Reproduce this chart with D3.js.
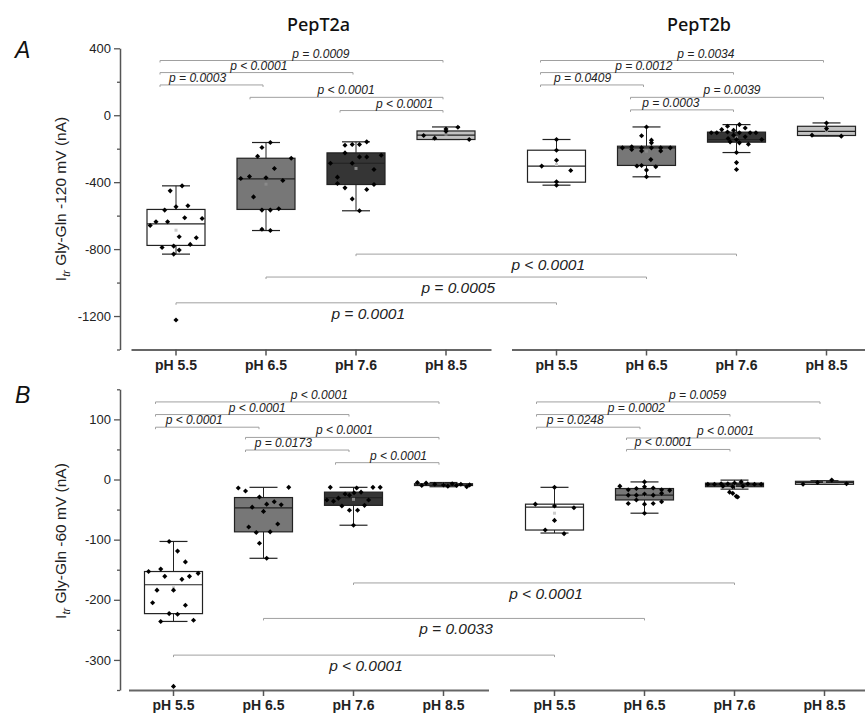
<!DOCTYPE html>
<html>
<head>
<meta charset="utf-8">
<script src="https://cdn.jsdelivr.net/npm/d3@7"></script>
<style>
  html, body { margin: 0; padding: 0; background: #fff; }
  svg { display: block; }
</style>
</head>
<body>
<script>
// ---------------- DATA ----------------
const categories = ["pH 5.5", "pH 6.5", "pH 7.6", "pH 8.5"];
const groups = ["PepT2a", "PepT2b"];
const A_yTicks = [400, 0, -400, -800, -1200];
const A_yMinor = [200, -200, -600, -1000, -1400];
const B_yTicks = [100, 0, -100, -200, -300];
const B_yMinor = [150, 50, -50, -150, -250, -350];

// order: PepT2a 5.5, 6.5, 7.6, 8.5, PepT2b 5.5, 6.5, 7.6, 8.5
const A_whiskerLo = [-830, -689, -571, -145, -418, -368, -223, -125];
const A_q1        = [-778, -563, -414, -145, -400, -300, -161, -121];
const A_median    = [-649, -380, -287, -119, -304, -195, -145, -96];
const A_q3        = [-563, -257, -225, -94, -209, -185, -101, -66];
const A_whiskerHi = [-422, -163, -159, -70, -145, -70, -56, -46];
const A_mean      = [-687, -412, -318, -114, -294, -215, -135, -92];

const A_points = [
  [-422,-452,-547,-541,-567,-617,-613,-637,-637,-659,-726,-732,-772,-790,-782,-806,-830,-1224],
  [-163,-193,-245,-257,-318,-378,-366,-374,-390,-488,-567,-567,-559,-681,-689],
  [-179,-175,-175,-159,-225,-249,-249,-239,-287,-287,-324,-370,-408,-414,-434,-444,-500,-571],
  [-121,-137,-96,-82,-72,-145],
  [-145,-209,-269,-304,-330,-398,-418],
  [-70,-123,-149,-165,-195,-189,-195,-195,-195,-195,-205,-213,-213,-265,-303,-300,-308,-328,-368],
  [-66,-56,-76,-105,-86,-100,-90,-105,-105,-105,-105,-119,-139,-145,-129,-145,-159,-165,-173,-223,-283,-324],
  [-46,-80,-119,-125]
];
const A_jitter = [
  [0.21,-0.2,0,0.41,-0.39,0.9,0.3,-0.69,-0.29,-0.89,0.11,0.7,0.49,-0.48,-0.08,0.11,-0.08,0],
  [0.15,-0.14,-0.29,0.87,0.29,-0.87,-0.57,0,0.58,-0.43,-0.14,0.15,0.44,-0.14,0.15],
  [-0.38,-0.13,0.12,0.37,-0.38,0.12,0.37,0.87,-0.88,-0.13,0.62,-0.64,-0.64,0.62,-0.38,0.37,-0.13,0.12],
  [-0.77,-0.39,0,0,0.41,0.8],
  [0,0,0,-0.51,0.49,0,0],
  [0,-0.17,0.17,0.17,-0.83,-0.51,-0.17,0.17,0.49,0.82,-0.51,-0.17,0.49,0.15,-0.33,-0.17,0.32,0,0],
  [-0.31,0.1,0.3,-0.68,-0.51,-0.31,-0.1,0.1,0.47,0.67,-0.87,-0.1,-0.29,0,0.3,0.87,-0.22,0.1,0.41,0,0,0],
  [0,0,-0.5,0.51]
];

const B_whiskerLo = [-236, -131, -76, -12, -89, -56, -16, -8];
const B_q1        = [-223, -87, -43, -10, -84, -34, -12, -8];
const B_median    = [-175, -47, -30, -9, -46, -26, -8, -5];
const B_q3        = [-153, -30, -21, -7, -41, -15, -6, -3];
const B_whiskerHi = [-103, -13, -13, -5, -13, -4, -1, -2];
const B_mean      = [-180, -53, -33, -8, -56, -26, -10, -5];

const B_points = [
  [-103,-119,-137,-153,-149,-161,-166,-161,-156,-184,-184,-205,-209,-223,-224,-236,-234,-344],
  [-14,-19,-13,-29,-46,-41,-37,-42,-53,-74,-79,-88,-87,-106,-131],
  [-13,-14,-13,-13,-34,-36,-31,-24,-26,-22,-21,-34,-44,-43,-51,-51,-76],
  [-5,-6,-7,-8,-8,-9,-9,-10,-10,-11,-12],
  [-13,-41,-44,-47,-68,-84,-90],
  [-4,-11,-17,-15,-12,-14,-17,-18,-26,-26,-24,-26,-23,-40,-34,-41,-40,-37,-56],
  [-8,-8,-7,-7,-6,-4,-7,-8,-8,-11,-12,-11,-21,-23,-28,-29],
  [-8,-5,-1,-7]
];
const B_jitter = [
  [-0.15,0.14,0.41,-0.86,-0.44,-0.3,0.29,0.55,0.85,-0.57,0,-0.72,0.41,-0.15,0.14,-0.44,0.69,0],
  [-0.87,-0.62,0.87,-0.14,-0.39,0.11,0.37,0.61,0,0.49,-0.51,-0.25,0.23,-0.14,0.11],
  [-0.8,0.11,0.67,0.92,-0.92,-0.69,-0.52,-0.29,-0.14,0.02,0.26,0.52,-0.4,0.38,-0.14,0.14,0],
  [-0.9,-0.6,0.3,-0.3,0.6,0,0.9,-0.75,0.45,0.15,0.8],
  [0,-0.66,0,0.67,0,-0.32,0.33],
  [0,-0.85,-0.56,-0.28,0,0.3,0.59,0.87,-0.56,-0.28,0,0.3,0.59,-0.56,-0.28,0,0.3,0.59,0],
  [-0.92,-0.69,-0.46,-0.23,0,0.23,0.46,0.69,0.92,-0.4,-0.06,0.29,-0.17,-0.06,0.06,0.11],
  [-0.74,-0.24,0.25,0.76]
];

// significance brackets: from/to = box index (0..7), level = data value, at = label centre (category units within group)
const A_brackets = [
  {from:0, to:3, level:327, label:"p = 0.0009", at:1.61},
  {from:0, to:2, level:255, label:"p < 0.0001", at:0.92},
  {from:0, to:1, level:181, label:"p = 0.0003", at:0.24},
  {from:1, to:3, level:107, label:"p < 0.0001", at:1.89},
  {from:2, to:3, level:28,  label:"p < 0.0001", at:2.54},
  {from:4, to:7, level:327, label:"p = 0.0034", at:1.66},
  {from:4, to:6, level:255, label:"p = 0.0012", at:0.97},
  {from:4, to:5, level:181, label:"p = 0.0409", at:0.29},
  {from:5, to:7, level:107, label:"p = 0.0039", at:1.95},
  {from:5, to:6, level:32,  label:"p = 0.0003", at:1.27}
];
const A_crossBrackets = [
  {from:2, to:6, level:-830,  label:"p < 0.0001"},
  {from:1, to:5, level:-967,  label:"p = 0.0005"},
  {from:0, to:4, level:-1121, label:"p = 0.0001"}
];
const B_brackets = [
  {from:0, to:3, level:129, label:"p < 0.0001", at:1.62},
  {from:0, to:2, level:108, label:"p < 0.0001", at:0.93},
  {from:0, to:1, level:87,  label:"p < 0.0001", at:0.23},
  {from:1, to:3, level:70,  label:"p < 0.0001", at:1.9},
  {from:1, to:2, level:49,  label:"p = 0.0173", at:1.22},
  {from:2, to:3, level:28,  label:"p < 0.0001", at:2.5},
  {from:4, to:7, level:129, label:"p = 0.0059", at:1.59},
  {from:4, to:6, level:108, label:"p = 0.0002", at:0.91},
  {from:4, to:5, level:87,  label:"p = 0.0248", at:0.23},
  {from:5, to:7, level:69,  label:"p < 0.0001", at:1.9},
  {from:5, to:6, level:50,  label:"p < 0.0001", at:1.21}
];
const B_crossBrackets = [
  {from:2, to:6, level:-172, label:"p < 0.0001"},
  {from:1, to:5, level:-231, label:"p = 0.0033"},
  {from:0, to:4, level:-292, label:"p < 0.0001"}
];

// ---------------- STYLE ----------------
const boxFill = ["#ffffff", "#777777", "#353535", "#c2c2c2"];
const FONT = "'Liberation Sans', Arial, sans-serif";

const svg = d3.select("body").append("svg")
  .attr("width", 865).attr("height", 715)
  .style("font-family", FONT);
svg.append("rect").attr("width", 865).attr("height", 715).attr("fill", "#fff");

function drawPanel(cfg) {
  const g = svg.append("g");
  const y = d3.scaleLinear().domain(cfg.yDomain).range(cfg.yRange);
  const xs = [
    d3.scaleBand().domain(categories).range(cfg.xLeft),
    d3.scaleBand().domain(categories).range(cfg.xRight)
  ];
  const bw = xs[0].bandwidth();
  const cx = i => xs[Math.floor(i / 4)](categories[i % 4]) + bw / 2;
  const halfBox = 29, halfCap = 14;

  // y axis
  const yAx = g.append("g").attr("transform", `translate(${cfg.axisX},0)`)
    .call(d3.axisLeft(y).tickValues(cfg.major).tickSize(6).tickSizeOuter(0).tickPadding(3)
      .tickFormat(d => String(d)));
  yAx.select(".domain").attr("stroke", "#555").attr("stroke-width", 1.5);
  yAx.selectAll(".tick line").attr("stroke", "#555").attr("stroke-width", 1.3);
  yAx.selectAll(".tick text").attr("font-size", 13).attr("fill", "#222").attr("font-family", FONT);
  const yMin = g.append("g").attr("transform", `translate(${cfg.axisX},0)`)
    .call(d3.axisLeft(y).tickValues(cfg.minor).tickSize(3).tickSizeOuter(0).tickFormat(""));
  yMin.select(".domain").remove();
  yMin.selectAll(".tick line").attr("stroke", "#555").attr("stroke-width", 1.3);

  // x axes
  xs.forEach(x => {
    const ax = g.append("g").attr("transform", `translate(0,${cfg.baseY})`)
      .call(d3.axisBottom(x).tickSize(6).tickSizeOuter(0).tickPadding(cfg.tickPad));
    ax.select(".domain").attr("stroke", "#666").attr("stroke-width", 2);
    ax.selectAll(".tick line").attr("stroke", "#555").attr("stroke-width", 1.5);
    ax.selectAll(".tick text").attr("font-size", 14).attr("font-weight", "bold")
      .attr("fill", "#222").attr("font-family", FONT);
  });

  // y label
  const lab = g.append("text")
    .attr("transform", `translate(66,${cfg.labelY}) rotate(-90)`)
    .attr("text-anchor", "middle").attr("font-size", 15.5).attr("fill", "#222");
  lab.append("tspan").text("I");
  lab.append("tspan").text("tr").attr("font-size", 11).attr("font-style", "italic").attr("dy", 4);
  lab.append("tspan").text(cfg.labelText).attr("dy", -4);

  // panel letter
  g.append("text").attr("x", 15).attr("y", cfg.letterY).text(cfg.letter)
    .attr("font-size", 23).attr("font-style", "italic").attr("fill", "#111");

  // brackets within groups
  const bGroup = g.append("g");
  cfg.brackets.forEach(b => {
    const x1 = cx(b.from) + cfg.bStart, x2 = cx(b.to) + cfg.bEnd, yy = y(b.level);
    bGroup.append("path")
      .attr("d", `M${x1},${yy + 2}V${yy}H${x2}V${yy + 2}`)
      .attr("fill", "none").attr("stroke", "#a0a0a0").attr("stroke-width", 1);
    const grp = Math.floor(b.from / 4);
    const lx = cx(grp * 4) + b.at * xs[0].step();
    bGroup.append("text").attr("x", lx).attr("y", yy - 3).attr("text-anchor", "middle")
      .attr("font-size", 12).attr("font-style", "italic").attr("fill", "#222").text(b.label);
  });
  cfg.cross.forEach(b => {
    const x1 = cx(b.from), x2 = cx(b.to), yy = y(b.level);
    bGroup.append("path")
      .attr("d", `M${x1},${yy + 2}V${yy}H${x2}V${yy + 2}`)
      .attr("fill", "none").attr("stroke", "#a0a0a0").attr("stroke-width", 1);
    bGroup.append("text").attr("x", (x1 + x2) / 2 + 2).attr("y", yy + 16).attr("text-anchor", "middle")
      .attr("font-size", 15.5).attr("font-style", "italic").attr("fill", "#222").text(b.label);
  });

  // boxes
  const s = cfg.stats;
  for (let i = 0; i < 8; i++) {
    const c = cx(i);
    const bg = g.append("g");
    bg.append("line").attr("x1", c).attr("x2", c).attr("y1", y(s.q3[i])).attr("y2", y(s.hi[i]))
      .attr("stroke", "#222").attr("stroke-width", 1);
    bg.append("line").attr("x1", c).attr("x2", c).attr("y1", y(s.q1[i])).attr("y2", y(s.lo[i]))
      .attr("stroke", "#222").attr("stroke-width", 1);
    [s.hi[i], s.lo[i]].forEach(v => bg.append("line")
      .attr("x1", c - halfCap).attr("x2", c + halfCap).attr("y1", y(v)).attr("y2", y(v))
      .attr("stroke", "#222").attr("stroke-width", 1.2));
    bg.append("rect").attr("x", c - halfBox).attr("width", halfBox * 2)
      .attr("y", y(s.q3[i])).attr("height", Math.max(1, y(s.q1[i]) - y(s.q3[i])))
      .attr("fill", boxFill[i % 4]).attr("stroke", "#222").attr("stroke-width", 1.2);
    bg.append("line").attr("x1", c - halfBox).attr("x2", c + halfBox)
      .attr("y1", y(s.med[i])).attr("y2", y(s.med[i]))
      .attr("stroke", "#222").attr("stroke-width", 1.2);
    bg.append("rect").attr("x", c - 1.5).attr("y", y(s.mean[i]) - 1.5).attr("width", 3).attr("height", 3)
      .attr("fill", i % 4 === 0 ? "#cccccc" : "#8a8a8a");
    const sym = d3.symbol(d3.symbolSquare, 13);
    bg.selectAll("path.pt").data(cfg.points[i].map((v, k) => ({v, j: cfg.jitter[i][k]})))
      .join("path").attr("class", "pt")
      .attr("d", sym)
      .attr("transform", d => `translate(${c + d.j * halfBox},${y(d.v)}) rotate(45)`)
      .attr("fill", "#000");
  }
  return {cx, xs};
}

const pA = drawPanel({
  yDomain: [-1400, 400], yRange: [349.5, 48.3], axisX: 120, baseY: 349.5,
  xLeft: [131, 491], xRight: [511.5, 871.5], tickPad: 4.5,
  major: A_yTicks, minor: A_yMinor, labelY: 199, labelText: " Gly-Gln -120 mV (nA)",
  letter: "A", letterY: 57.5, bStart: -16, bEnd: -3,
  brackets: A_brackets, cross: A_crossBrackets,
  stats: {lo: A_whiskerLo, q1: A_q1, med: A_median, q3: A_q3, hi: A_whiskerHi, mean: A_mean},
  points: A_points, jitter: A_jitter
});
drawPanel({
  yDomain: [-350, 150], yRange: [690, 389.3], axisX: 120, baseY: 690,
  xLeft: [128.5, 488.5], xRight: [509.5, 869.5], tickPad: 4,
  major: B_yTicks, minor: B_yMinor, labelY: 541, labelText: " Gly-Gln -60 mV (nA)",
  letter: "B", letterY: 402.5, bStart: -18, bEnd: -4.5,
  brackets: B_brackets, cross: B_crossBrackets,
  stats: {lo: B_whiskerLo, q1: B_q1, med: B_median, q3: B_q3, hi: B_whiskerHi, mean: B_mean},
  points: B_points, jitter: B_jitter
});

// group titles
groups.forEach((name, gi) => {
  const mid = (pA.cx(gi * 4) + pA.cx(gi * 4 + 3)) / 2 + 7.5;
  svg.append("text").attr("x", mid).attr("y", 31).attr("text-anchor", "middle")
    .attr("font-family", "'Noto Sans', sans-serif").attr("font-weight", 500)
    .attr("font-size", 18).attr("fill", "#111").text(name);
});
</script>
</body>
</html>
